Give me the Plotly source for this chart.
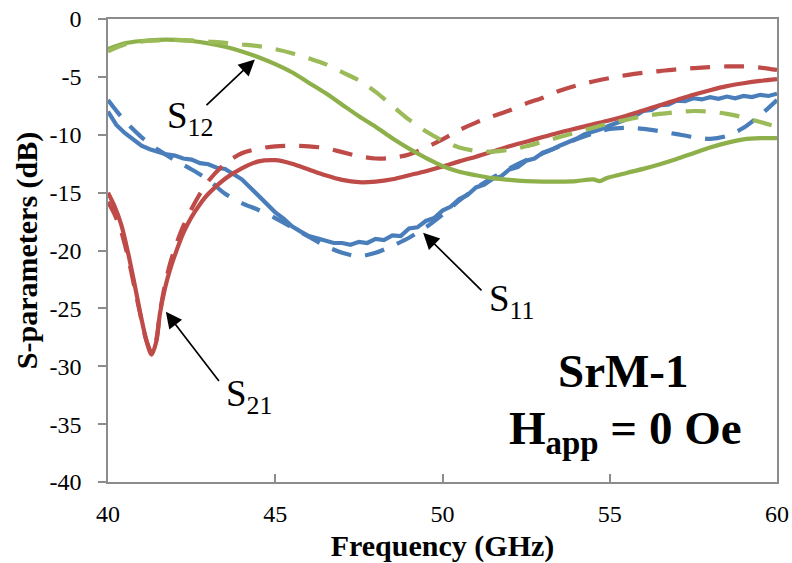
import plotly.graph_objects as go

# ---- S11 (reflection) ----
f_s11_meas = [40.0, 40.25, 40.5, 40.75, 41.0, 41.25, 41.5, 41.75, 42.0, 42.25, 42.5, 42.75,
              43.0, 43.25, 43.5, 43.75, 44.0, 44.25, 44.5, 44.75, 45.0, 45.25, 45.5, 45.75,
              46.0, 46.25, 46.5, 46.75, 47.0, 47.25, 47.5, 47.75, 48.0, 48.25, 48.5, 48.75,
              49.0, 49.25, 49.5, 49.75, 50.0, 50.25, 50.5, 50.75, 51.0, 51.25, 51.5, 51.75,
              52.0, 52.25, 52.5, 52.75, 53.0, 53.25, 53.5, 53.75, 54.0, 54.25, 54.5, 54.75,
              55.0, 55.25, 55.5, 55.75, 56.0, 56.25, 56.5, 56.75, 57.0, 57.25, 57.5, 57.75,
              58.0, 58.25, 58.5, 58.75, 59.0, 59.25, 59.5, 59.75, 60.0]
s11_meas = [-8.0, -9.15, -9.85, -10.4, -10.95, -11.25, -11.5, -11.7, -11.8, -12.05, -12.15, -12.45,
            -12.55, -12.85, -12.95, -13.35, -13.85, -14.55, -15.25, -15.95, -16.7, -17.25, -17.9, -18.35,
            -18.75, -18.95, -19.15, -19.35, -19.35, -19.5, -19.25, -19.35, -19.0, -19.1, -18.7, -18.75,
            -18.1, -18.0, -17.45, -17.2, -16.55, -16.2, -15.55, -15.2, -14.55, -14.3, -13.8, -13.6,
            -13.0, -12.8, -12.25, -12.05, -11.55, -11.3, -10.95, -10.65, -10.35, -9.95, -9.75, -9.5,
            -9.2, -8.95, -8.65, -8.4, -7.95, -7.85, -7.45, -7.4, -7.05, -7.1, -6.85, -6.95,
            -6.75, -6.9, -6.7, -6.85, -6.65, -6.75, -6.55, -6.65, -6.45]

f_s11_sim = [40.0, 40.5, 41.0, 41.5, 42.0, 42.5, 43.0, 43.5, 44.0, 44.5, 45.0, 45.5, 46.0,
             46.5, 47.0, 47.5, 48.0, 48.5, 49.0, 49.5, 50.0, 50.5, 51.0, 51.5, 52.0, 52.5,
             53.0, 53.5, 54.0, 54.5, 55.0, 55.5, 56.0, 56.5, 57.0, 57.5, 58.0, 58.5, 59.0,
             59.5, 60.0]
s11_sim = [-7.0, -8.8, -10.2, -11.3, -12.2, -13.0, -13.9, -15.1, -15.9, -16.5, -17.2, -18.0, -18.8,
           -19.6, -20.2, -20.5, -20.2, -19.6, -18.9, -18.0, -16.9, -15.7, -14.6, -13.7, -12.9, -12.2,
           -11.6, -11.0, -10.4, -9.9, -9.5, -9.4, -9.5, -9.7, -9.95, -10.2, -10.35, -10.1, -9.4,
           -8.3, -7.0]

# ---- S21 (transmission) ----
f_s21_meas = [40.0, 40.2, 40.4, 40.6, 40.8, 41.0, 41.15, 41.3, 41.45, 41.55, 41.7, 41.85, 42.0,
              42.25, 42.5, 42.75, 43.0, 43.5, 44.0, 44.5, 45.0, 45.5, 46.0, 46.5, 47.0, 47.5,
              48.0, 48.5, 49.0, 49.5, 50.0, 50.5, 51.0, 51.5, 52.0, 52.5, 53.0, 53.5, 54.0,
              54.5, 55.0, 55.5, 56.0, 56.5, 57.0, 57.5, 58.0, 58.5, 59.0, 59.5, 60.0]
s21_meas = [-15.0, -16.2, -17.8, -20.2, -23.0, -25.9, -27.8, -29.0, -27.8, -25.5, -23.3, -21.7, -20.4,
            -18.5, -17.1, -16.0, -15.1, -13.8, -12.9, -12.3, -12.2, -12.5, -13.0, -13.5, -13.9, -14.1,
            -14.05, -13.85, -13.5, -13.15, -12.75, -12.3, -11.9, -11.45, -11.0, -10.6, -10.2, -9.8, -9.45,
            -9.1, -8.75, -8.35, -7.9, -7.45, -7.0, -6.55, -6.15, -5.8, -5.55, -5.35, -5.2]

f_s21_sim = [40.0, 40.2, 40.4, 40.6, 40.8, 41.0, 41.15, 41.3, 41.45, 41.55, 41.7, 41.85, 42.0,
             42.25, 42.5, 42.75, 43.0, 43.5, 44.0, 44.5, 45.0, 45.5, 46.0, 46.5, 47.0, 47.5,
             48.0, 48.5, 49.0, 49.5, 50.0, 50.5, 51.0, 51.5, 52.0, 52.5, 53.0, 53.5, 54.0,
             54.5, 55.0, 55.5, 56.0, 56.5, 57.0, 57.5, 58.0, 58.5, 59.0, 59.5, 60.0]
s21_sim = [-15.8, -16.9, -18.4, -20.6, -23.3, -26.0, -27.8, -28.8, -27.6, -25.4, -23.0, -21.2, -19.8,
           -17.9, -16.4, -15.1, -14.0, -12.5, -11.6, -11.2, -11.0, -10.95, -11.0, -11.15, -11.5, -11.85,
           -12.05, -12.0, -11.7, -11.1, -10.4, -9.6, -8.95, -8.4, -7.9, -7.3, -6.8, -6.2, -5.75,
           -5.4, -5.1, -4.85, -4.65, -4.5, -4.35, -4.25, -4.15, -4.1, -4.1, -4.2, -4.4]

# ---- S12 ----
f_s12_meas = [40.0, 40.5, 41.0, 41.5, 42.0, 42.5, 43.0, 43.5, 44.0, 44.5, 45.0, 45.5, 46.0,
              46.5, 47.0, 47.5, 48.0, 48.5, 49.0, 49.5, 50.0, 50.5, 51.0, 51.5, 52.0, 52.5,
              53.0, 53.5, 54.0, 54.5, 54.7, 54.9, 55.5, 56.0, 56.5, 57.0, 57.5, 58.0, 58.5,
              59.0, 59.5, 60.0]
s12_meas = [-2.6, -2.1, -1.9, -1.8, -1.8, -1.9, -2.1, -2.4, -2.8, -3.3, -3.9, -4.6, -5.5,
            -6.4, -7.4, -8.4, -9.3, -10.3, -11.2, -12.0, -12.7, -13.2, -13.5, -13.75, -13.9, -14.0,
            -14.05, -14.05, -14.0, -13.85, -14.0, -13.75, -13.3, -12.95, -12.55, -12.1, -11.6, -11.1, -10.7,
            -10.4, -10.3, -10.3]

f_s12_sim = [40.0, 40.5, 41.0, 41.5, 42.0, 42.5, 43.0, 43.5, 44.0, 44.5, 45.0, 45.5, 46.0,
             46.5, 47.0, 47.5, 48.0, 48.5, 49.0, 49.5, 50.0, 50.5, 51.0, 51.5, 52.0, 52.5,
             53.0, 53.5, 54.0, 54.5, 55.0, 55.5, 56.0, 56.5, 57.0, 57.5, 58.0, 58.5, 59.0,
             59.5, 60.0]
s12_sim = [-2.8, -2.2, -1.95, -1.85, -1.8, -1.85, -1.95, -2.05, -2.2, -2.35, -2.6, -2.95, -3.4,
           -3.9, -4.6, -5.3, -6.3, -7.5, -8.7, -9.7, -10.5, -11.1, -11.4, -11.45, -11.3, -11.0,
           -10.6, -10.2, -9.8, -9.4, -9.0, -8.7, -8.4, -8.2, -8.05, -7.95, -8.0, -8.2, -8.5,
           -8.9, -9.3]

x_ticks = [40, 45, 50, 55, 60]
y_ticks = [0, -5, -10, -15, -20, -25, -30, -35, -40]

BLUE = "#4A7EBB"
RED = "#BE4B48"
GREEN = "#8DB04A"
GREEN_LIGHT = "#9BBB59"
DASH = "20px,14px"
LW = 4.2
SERIF = "Liberation Serif, Times New Roman, serif"

fig = go.Figure()
traces = [
    (f_s11_meas, s11_meas, BLUE, "solid", "linear", "S11 measured"),
    (f_s11_sim, s11_sim, BLUE, DASH, "spline", "S11 simulated"),
    (f_s21_meas, s21_meas, RED, "solid", "spline", "S21 measured"),
    (f_s21_sim, s21_sim, RED, DASH, "spline", "S21 simulated"),
    (f_s12_meas, s12_meas, GREEN, "solid", "spline", "S12 measured"),
    (f_s12_sim, s12_sim, GREEN_LIGHT, DASH, "spline", "S12 simulated"),
]
for fx, vals, color, dash, shape, name in traces:
    fig.add_trace(go.Scatter(
        x=fx, y=vals, mode="lines", name=name,
        line=dict(color=color, width=LW, dash=dash, shape=shape, smoothing=0.8),
        hoverinfo="skip",
    ))

# Curve labels with pointer arrows (tail -> head, in data coordinates)
labels = [
    ("S<sub>12</sub>", 42.9, -7.57, 44.39, -3.5, 41.7, -8.6),
    ("S<sub>21</sub>", 43.35, -31.4, 41.73, -25.3, 43.48, -32.6),
    ("S<sub>11</sub>", 51.21, -23.57, 49.42, -18.47, 51.32, -24.4),
]
for text, tx, ty, hx, hy, lx, ly in labels:
    fig.add_annotation(
        x=hx, y=hy, ax=tx, ay=ty, xref="x", yref="y", axref="x", ayref="y",
        text="", showarrow=True, arrowhead=2, arrowsize=1.9, arrowwidth=1.7,
        arrowcolor="black",
    )
    fig.add_annotation(
        x=lx, y=ly, xref="x", yref="y", text=text, showarrow=False,
        xanchor="left", yanchor="middle",
        font=dict(family=SERIF, size=37, color="black"),
    )

fig.add_annotation(
    x=55.4, y=-30.4, xref="x", yref="y", text="<b>SrM-1</b>", showarrow=False,
    xanchor="center", yanchor="middle",
    font=dict(family=SERIF, size=47, color="black"),
)
fig.add_annotation(
    x=55.46, y=-35.6, xref="x", yref="y", text="<b>H<sub>app</sub> = 0 Oe</b>",
    showarrow=False, xanchor="center", yanchor="middle",
    font=dict(family=SERIF, size=47, color="black"),
)

axis_common = dict(
    showline=True, linecolor="#8C8C8C", linewidth=1.5, mirror=True,
    showgrid=False, zeroline=False, ticklen=8, tickcolor="#8C8C8C", tickwidth=1.5,
    tickfont=dict(family=SERIF, size=24, color="black"),
    automargin=False,
)

fig.update_layout(
    width=792, height=563,
    margin=dict(l=108, r=15, t=19, b=81),
    paper_bgcolor="white", plot_bgcolor="white",
    showlegend=False,
    xaxis=dict(
        range=[40, 60], tickvals=x_ticks, ticktext=[str(v) for v in x_ticks],
        ticks="inside", ticklabelstandoff=9,
        title=dict(text="<b>Frequency (GHz)</b>", standoff=9,
                   font=dict(family=SERIF, size=30, color="black")),
        **axis_common,
    ),
    yaxis=dict(
        range=[-40, 0], tickvals=y_ticks, ticktext=[str(v) for v in y_ticks],
        ticks="outside", ticklabelstandoff=12,
        title=dict(text="<b>S-parameters (dB)</b>", standoff=3,
                   font=dict(family=SERIF, size=30, color="black")),
        **axis_common,
    ),
)

fig.write_html("out.html")
